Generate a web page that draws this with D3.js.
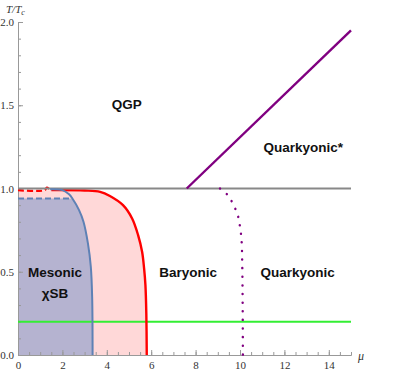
<!DOCTYPE html>
<html>
<head>
<meta charset="utf-8">
<script src="https://cdn.jsdelivr.net/npm/d3@7"></script>
<style>
  body { margin: 0; background: #fff; }
  .tick text { font-family: "Liberation Serif", "DejaVu Serif", serif; font-size: 11px; fill: #333; }
  .axis path, .axis line { stroke: #999; }
  .region { font-family: "Liberation Sans", Arial, sans-serif; font-size: 13.5px; font-weight: bold; fill: #111; }
</style>
</head>
<body>
<svg width="407" height="373"></svg>
<script>
// x ticks (mu) and y ticks (T/Tc)
var xTicks = [0, 2, 4, 6, 8, 10, 12, 14];
var yTicks = [0.0, 0.5, 1.0, 1.5, 2.0];

// boundaries, [mu, T/Tc]
var redDashed = [[0, 0.99], [1.2, 0.99], [1.3, 1.006], [1.42, 0.996], [1.5, 0.99]];
var redCurve = [[1.5, 0.99], [3.0, 0.988], [3.7, 0.98], [4.14, 0.955], [4.73, 0.9], [5.14, 0.82],
                [5.41, 0.72], [5.59, 0.62], [5.68, 0.52], [5.74, 0.42], [5.78, 0.25], [5.8, 0]];
var blueDashed = [[0, 0.94], [2.45, 0.94]];
var blueCurve = [[1.45, 0.995], [2.0, 0.99], [2.3, 0.965], [2.45, 0.94], [2.75, 0.87], [2.95, 0.8],
                 [3.15, 0.67], [3.28, 0.53], [3.34, 0.35], [3.36, 0]];
var purpleLine = [[7.6, 1.0], [15, 1.95]];
var purpleDotted = [[9.1, 1.0], [9.45, 0.96], [9.73, 0.895], [9.91, 0.835], [10.0, 0.77],
                    [10.07, 0.69], [10.1, 0.55], [10.12, 0.3], [10.13, 0]];
var grayLevel = 1.0;
var greenLevel = 0.2;

var labels = [
    {text: 'QGP', mu: 4.9, t: 1.48},
    {text: 'Quarkyonic*', mu: 12.85, t: 1.22},
    {text: 'Mesonic', mu: 1.67, t: 0.47},
    {text: '\u03c7SB', mu: 1.67, t: 0.34},
    {text: 'Baryonic', mu: 7.66, t: 0.47},
    {text: 'Quarkyonic', mu: 12.6, t: 0.47}
];

var svg = d3.select('svg');

var x = d3.scaleLinear().domain([0, 15]).range([18, 351]);
var y = d3.scaleLinear().domain([0, 2]).range([355, 22]);

var line = d3.line()
    .x(function(d) { return x(d[0]); })
    .y(function(d) { return y(d[1]); });
var smooth = d3.line()
    .x(function(d) { return x(d[0]); })
    .y(function(d) { return y(d[1]); })
    .curve(d3.curveCatmullRom.alpha(0.5));

// closes a smooth boundary down to the origin with straight edges
function region(top, pts) {
    return line([[0, top]]) + smooth(pts).replace(/^M/, 'L') +
        'L' + x(0) + ',' + y(0) + 'Z';
}

// pink area under the red curve
svg.append('path')
    .attr('d', region(0.99, redCurve))
    .attr('fill', '#ffd8d8');

// blue (chiral broken) area
svg.append('path')
    .attr('d', region(0.94, blueCurve.filter(function(d) { return d[1] <= 0.94; })))
    .attr('fill', '#b5b3d0');

// axes
var xAxis = d3.axisBottom(x).tickValues(xTicks).tickSizeInner(-5).tickSizeOuter(0).tickPadding(6)
    .tickFormat(d3.format('d'));
var xMinor = d3.axisBottom(x).tickValues(d3.range(0, 15.01, 0.5)).tickSizeInner(-3).tickSizeOuter(0)
    .tickFormat('');
var yAxis = d3.axisLeft(y).tickValues(yTicks).tickSizeInner(-5).tickSizeOuter(0).tickPadding(4)
    .tickFormat(d3.format('.1f'));
var yMinor = d3.axisLeft(y).tickValues(d3.range(0, 2.01, 0.1)).tickSizeInner(-3).tickSizeOuter(0)
    .tickFormat('');

svg.append('g').attr('class', 'axis').attr('transform', 'translate(0,' + y(0) + ')').call(xMinor);
svg.append('g').attr('class', 'axis').attr('transform', 'translate(0,' + y(0) + ')').call(xAxis);
svg.append('g').attr('class', 'axis').attr('transform', 'translate(' + x(0) + ',0)').call(yMinor);
svg.append('g').attr('class', 'axis').attr('transform', 'translate(' + x(0) + ',0)').call(yAxis);

svg.append('text')
    .attr('x', 358).attr('y', 360)
    .style('font-family', '"Liberation Serif", serif').style('font-style', 'italic')
    .style('font-size', '12px').attr('fill', '#333')
    .text('\u03bc');
var tl = svg.append('text')
    .attr('x', 6).attr('y', 13)
    .style('font-family', '"Liberation Serif", serif').style('font-style', 'italic')
    .style('font-size', '11px').attr('fill', '#333');
tl.append('tspan').text('T/T');
tl.append('tspan').attr('dy', 2).style('font-size', '8px').text('c');

// green horizontal line
svg.append('path')
    .attr('d', line([[0, greenLevel], [15, greenLevel]]))
    .attr('stroke', '#33ee33').attr('stroke-width', 2).attr('fill', 'none');

// red boundary
svg.append('path')
    .attr('d', smooth(redDashed))
    .attr('stroke', '#ff0000').attr('stroke-width', 2.2).attr('fill', 'none')
    .attr('stroke-dasharray', '6,3');
svg.append('path')
    .attr('d', smooth(redCurve))
    .attr('stroke', '#ff0000').attr('stroke-width', 2.4).attr('fill', 'none');

// gray Tc line
svg.append('path')
    .attr('d', line([[0, grayLevel], [15, grayLevel]]))
    .attr('stroke', '#888').attr('stroke-width', 2).attr('fill', 'none');

// blue boundary
svg.append('path')
    .attr('d', line(blueDashed))
    .attr('stroke', '#5e81b5').attr('stroke-width', 2).attr('fill', 'none')
    .attr('stroke-dasharray', '6,3');
svg.append('path')
    .attr('d', smooth(blueCurve))
    .attr('stroke', '#5e81b5').attr('stroke-width', 2).attr('fill', 'none');

// purple lines
svg.append('path')
    .attr('d', line(purpleLine))
    .attr('stroke', '#800080').attr('stroke-width', 2.4).attr('fill', 'none');
svg.append('path')
    .attr('d', smooth(purpleDotted))
    .attr('stroke', '#800080').attr('stroke-width', 2.4).attr('fill', 'none')
    .attr('stroke-linecap', 'round').attr('stroke-dasharray', '0.1,8.5');

// region labels
svg.selectAll('.region')
    .data(labels)
    .enter()
    .append('text')
    .attr('class', 'region')
    .attr('text-anchor', 'middle')
    .attr('x', function(d) { return x(d.mu); })
    .attr('y', function(d) { return y(d.t); })
    .text(function(d) { return d.text; });
</script>
</body>
</html>
